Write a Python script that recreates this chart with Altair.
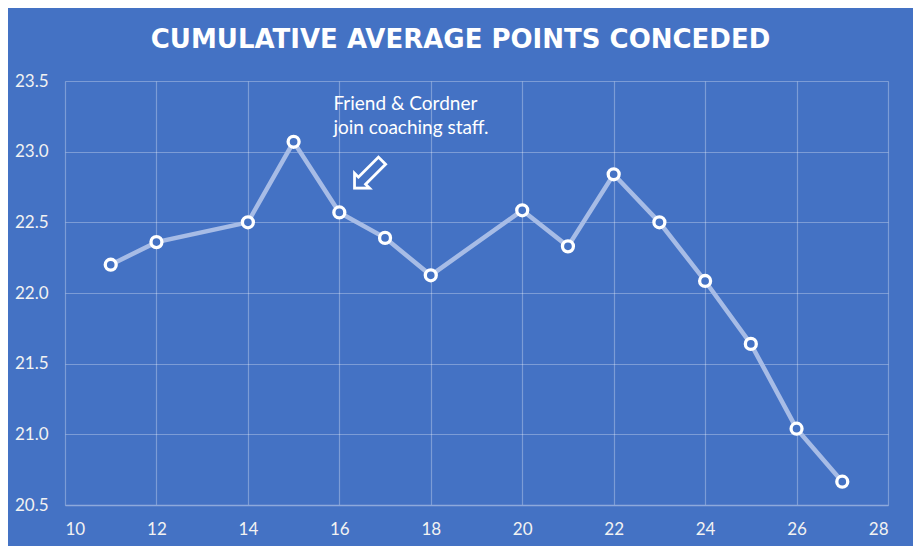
import altair as alt
import pandas as pd

rounds = [11, 12, 14, 15, 16, 17, 18, 20, 21, 22, 23, 24, 25, 26, 27]
avg_conceded = [22.20, 22.36, 22.50, 23.07, 22.57, 22.39, 22.125, 22.585, 22.33, 22.84, 22.50, 22.085, 21.64, 21.04, 20.665]

note_lines = ["Friend & Cordner", "join coaching staff."]
note_x = [15.87]
note_y = [23.335]
arrow_x = [16.65]
arrow_y = [22.84]

BG = "#4472C4"
df = pd.DataFrame({"round": rounds, "avg": avg_conceded})

xs = alt.Scale(domain=[10, 28], nice=False, zero=False)
ys = alt.Scale(domain=[20.5, 23.5], nice=False, zero=False)

x_axis = alt.Axis(values=list(range(10, 29, 2)), title=None, labelFontSize=17, labelColor="#F2F2F2",
                  labelFont="Lato", labelPadding=16, ticks=False, domain=True, domainColor="#8EA9DB",
                  domainWidth=1.5, grid=True, gridColor="#FFFFFF", gridOpacity=0.3, gridWidth=1.2)
y_axis = alt.Axis(values=[20.5, 21.0, 21.5, 22.0, 22.5, 23.0, 23.5], format=".1f", title=None,
                  labelFontSize=17, labelColor="#F2F2F2", labelFont="Lato", labelPadding=17,
                  ticks=False, domain=False, grid=True, gridColor="#FFFFFF", gridOpacity=0.3, gridWidth=1.2)

base = alt.Chart(df)
line = base.mark_line(color="#A7BCE6", strokeWidth=4.5).encode(
    x=alt.X("round:Q", scale=xs, axis=x_axis),
    y=alt.Y("avg:Q", scale=ys, axis=y_axis),
)
pts = base.mark_point(shape="circle", size=120, filled=True, fill=BG, stroke="#FFFFFF",
                      strokeWidth=3.3, opacity=1).encode(
    x=alt.X("round:Q", scale=xs),
    y=alt.Y("avg:Q", scale=ys),
)

note_df = pd.DataFrame({"x": note_x, "y": note_y, "t": [note_lines]})
note = alt.Chart(note_df).mark_text(align="left", baseline="middle", color="#FFFFFF", font="Lato",
                                     fontSize=19, lineHeight=24).encode(
    x=alt.X("x:Q", scale=xs), y=alt.Y("y:Q", scale=ys), text="t")

arrow_df = pd.DataFrame({"x": arrow_x, "y": arrow_y, "t": ["\u21e6"]})
arrow = alt.Chart(arrow_df).mark_text(align="center", baseline="middle", color="#FFFFFF",
                                      font="DejaVu Sans", fontSize=56, angle=315).encode(
    x=alt.X("x:Q", scale=xs), y=alt.Y("y:Q", scale=ys), text="t")

chart = alt.layer(line, pts, note, arrow).properties(
    width=823, height=424,
    padding={"left": 57, "top": 73, "right": 25, "bottom": 41},
    autosize=alt.AutoSizeParams(type="none"),
    background=BG,
    title=alt.TitleParams("CUMULATIVE  AVERAGE  POINTS  CONCEDED", font="DejaVu Sans", fontSize=26,
                          fontWeight="bold", color="#FFFFFF", anchor="middle", dx=-16, offset=19),
).configure_view(stroke=None)

chart.save("out.html", embed_options={"renderer": "svg", "actions": False})
